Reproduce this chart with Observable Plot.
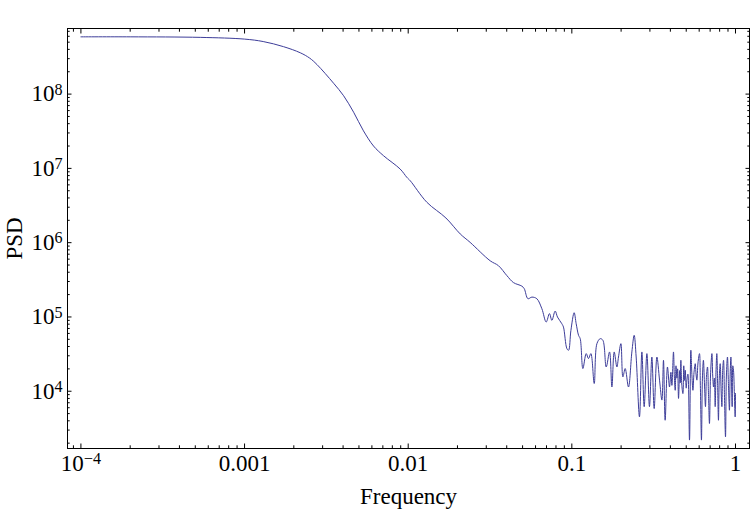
<!DOCTYPE html>
<html><head><meta charset="utf-8">
<script src="https://cdn.jsdelivr.net/npm/d3@7"></script>
<script src="https://cdn.jsdelivr.net/npm/@observablehq/plot@0.6"></script>
<style>
html,body{margin:0;padding:0;background:#fff;}
</style></head><body><div id="chart"></div>
<script>
// Frequency values
const freq = [
  1e-4, 2e-4, 5.4e-4, 1e-3, 1.3e-3, 1.73e-3, 2.19e-3, 2.5e-3, 2.77e-3, 3.5e-3, 4.03e-3, 4.64e-3, 5.33e-3,
  6.14e-3, 7.07e-3, 8.93e-3, 9.8e-3, 1.03e-2, 1.3e-2, 1.7e-2, 2.08e-2, 2.39e-2, 3.17e-2, 3.56e-2, 4.01e-2,
  4.40e-2, 4.95e-2, 5.12e-2, 5.39e-2, 5.70e-2, 6.11e-2, 6.56e-2,
  0.0697, 0.0730, 0.0755, 0.0791, 0.0817, 0.0869, 0.0889, 0.0933, 0.0955, 0.0987, 0.1033, 0.1063, 0.1099,
  0.1125, 0.1168, 0.1224, 0.1264, 0.1307, 0.1370, 0.1423, 0.1491, 0.1548, 0.1622, 0.1700, 0.1757, 0.1815,
  0.1885, 0.1928, 0.1994, 0.2051, 0.2118, 0.2219, 0.2327, 0.2404, 0.2472, 0.2590, 0.2679, 0.2767, 0.2875,
  0.2981, 0.3083, 0.3185, 0.3310, 0.3435, 0.3551, 0.3631, 0.3717, 0.3840, 0.3952,
  0.4030, 0.4087, 0.4179, 0.4230, 0.4283, 0.4330, 0.4385, 0.4430, 0.4487, 0.4560, 0.4600, 0.4637, 0.4700,
  0.4773, 0.4830, 0.4880, 0.4932, 0.5000, 0.5047, 0.5120, 0.5236,
  0.5336, 0.5420, 0.5495, 0.5580, 0.5675, 0.5740, 0.5808, 0.5900, 0.6026, 0.6100, 0.6195, 0.6280, 0.6368,
  0.6460, 0.6555, 0.6650, 0.6745, 0.6840, 0.6934, 0.7050, 0.7177, 0.7260, 0.7345, 0.7430, 0.7516, 0.7600,
  0.7691, 0.7780, 0.7870, 0.7960, 0.8065, 0.8160, 0.8260, 0.8350, 0.8453, 0.8560, 0.8690, 0.8800, 0.8933,
  0.9060, 0.9183, 0.9280, 0.9376, 0.9460, 0.9545, 0.9630, 0.9723, 0.9850, 0.9954, 1.0
];
// PSD values
const psd = [
  5.9e8, 5.9e8, 5.8e8, 5.5e8, 5.1e8, 4.35e8, 3.6e8, 3.05e8, 2.5e8, 1.4e8, 9.5e7, 5.7e7, 3.2e7,
  2.0e7, 1.48e7, 9.8e6, 7.6e6, 6.8e6, 3.5e6, 2.15e6, 1.31e6, 1.01e6, 5.7e5, 4.9e5, 3.6e5,
  2.9e5, 2.6e5, 2.4e5, 1.76e5, 1.85e5, 1.76e5, 1.29e5,
  8.55e4, 1.11e5, 9.0e4, 1.20e5, 9.98e4, 8.1e4, 7.3e4, 3.74e4, 3.56e4, 6.6e4, 1.14e5, 8.1e4, 5.66e4,
  5.1e4, 2.02e4, 3.21e4, 2.75e4, 3.21e4, 1.27e4, 4.37e4, 5.1e4, 4.85e4, 2.12e4, 3.38e4, 1.14e4, 3.38e4,
  2.12e4, 2.89e4, 4.37e4, 1.56e4, 2.02e4, 1.14e4, 3.38e4, 5.66e4, 2.89e4, 4.52e3, 3.38e4, 6.2e3, 3.21e4,
  6.2e3, 2.89e4, 5.85e3, 2.89e4, 1.41e4, 7.6e3, 2.61e4, 4.07e3, 2.12e4, 1.14e4,
  1.8e4, 1.2e4, 3.38e4, 1.6e4, 1.03e4, 2.2e4, 1.5e4, 2.0e4, 8.0e3, 1.9e4, 1.3e4, 2.61e4, 1.2e4,
  9.3e3, 2.2e4, 1.4e4, 1.92e4, 1.1e4, 1.41e4, 1.7e4, 2.2e3,
  3.56e4, 1.6e4, 1.03e4, 1.8e4, 2.35e4, 1.7e4, 1.41e4, 2.4e4, 3.21e4, 1.2e4, 2.2e3, 1.5e4, 2.61e4,
  1.3e4, 6.2e3, 1.6e4, 2.12e4, 9.0e3, 3.68e3, 1.8e4, 3.21e4, 1.6e4, 1.14e4, 1.5e4, 6.2e3, 1.8e4,
  3.21e4, 1.2e4, 4.07e3, 1.5e4, 2.35e4, 1.1e4, 6.2e3, 1.9e4, 2.61e4, 9.0e3, 2.43e3, 1.6e4, 2.89e4,
  1.2e4, 5.55e3, 1.7e4, 2.89e4, 1.3e4, 6.2e3, 2.2e4, 1.92e4, 9.0e3, 4.52e3, 9.3e3
];

const majorX = [1e-4, 1e-3, 1e-2, 1e-1, 1];
const labelsX = ["10⁻⁴", "0.001", "0.01", "0.1", "1"];
const majorY = [1e4, 1e5, 1e6, 1e7, 1e8];
const labelsY = ["10⁴", "10⁵", "10⁶", "10⁷", "10⁸"];
const mantissas = [2, 3, 4, 5, 6, 7, 8, 9];

const xDomain = [8.28e-5, 1.218];
const yDomain = [1695, 7.64e8];

const inDom = (dom) => (v) => v >= dom[0] && v <= dom[1];
const minorX = [1e-5, 1e-4, 1e-3, 1e-2, 1e-1, 1].flatMap(d => mantissas.map(m => m * d)).filter(inDom(xDomain));
const minorY = [1e3, 1e4, 1e5, 1e6, 1e7, 1e8].flatMap(d => mantissas.map(m => m * d)).filter(inDom(yDomain));

const data = freq.map((f, i) => ({f, p: psd[i]}));
const fmtX = (d) => labelsX[majorX.indexOf(d)];
const fmtY = (d) => labelsY[majorY.indexOf(d)];
const blank = () => "";

const font = "Liberation Serif, Times New Roman, serif";
const FS = 23;
const common = {label: null, fontSize: FS};

const chart = Plot.plot({
  width: 753,
  height: 511,
  marginLeft: 67,
  marginRight: 4,
  marginTop: 28,
  marginBottom: 63,
  style: {fontFamily: font, fontSize: FS + "px", background: "#fff", color: "#000"},
  x: {type: "log", domain: xDomain, label: null},
  y: {type: "log", domain: yDomain, label: null},
  marks: [
    Plot.line(data, {x: "f", y: "p", stroke: "#3d3d99", strokeWidth: 1, curve: "catmull-rom"}),
    Plot.frame({stroke: "#000", strokeWidth: 1}),
    // inward ticks on all four sides
    Plot.axisX(majorX, {...common, anchor: "bottom", tickSize: -4.5, tickFormat: blank}),
    Plot.axisX(minorX, {...common, anchor: "bottom", tickSize: -2.7, tickFormat: blank}),
    Plot.axisX(majorX, {...common, anchor: "top", tickSize: -4.5, tickFormat: blank}),
    Plot.axisX(minorX, {...common, anchor: "top", tickSize: -2.7, tickFormat: blank}),
    Plot.axisY(majorY, {...common, anchor: "left", tickSize: -4.5, tickFormat: blank}),
    Plot.axisY(minorY, {...common, anchor: "left", tickSize: -2.7, tickFormat: blank}),
    Plot.axisY(majorY, {...common, anchor: "right", tickSize: -4.5, tickFormat: blank}),
    Plot.axisY(minorY, {...common, anchor: "right", tickSize: -2.7, tickFormat: blank}),
    // labels
    Plot.axisX(majorX, {anchor: "bottom", tickSize: 0, tickPadding: 6, tickFormat: fmtX, fontSize: FS,
      label: "Frequency", labelAnchor: "center", labelOffset: 55, labelArrow: "none"}),
    Plot.axisY(majorY, {anchor: "left", tickSize: 0, tickPadding: 5, tickFormat: fmtY, fontSize: FS,
      label: "PSD", labelAnchor: "center", labelOffset: 62, labelArrow: "none"})
  ]
});

// render superscript exponents like Mathematica (smaller, raised digits)
const supMap = {"⁰":"0","¹":"1","²":"2","³":"3","⁴":"4","⁵":"5","⁶":"6","⁷":"7","⁸":"8","⁹":"9","⁻":"−"};
chart.querySelectorAll("text").forEach((t) => {
  const s = t.textContent;
  const m = s.match(/^(10)([⁻⁰¹²³⁴⁵⁶⁷⁸⁹]+)$/);
  if (!m) return;
  while (t.firstChild) t.removeChild(t.firstChild);
  const ns = "http://www.w3.org/2000/svg";
  const base = document.createElementNS(ns, "tspan");
  base.textContent = m[1];
  const sup = document.createElementNS(ns, "tspan");
  sup.textContent = [...m[2]].map(c => supMap[c]).join("");
  sup.setAttribute("font-size", "0.7em");
  sup.setAttribute("dy", "-0.42em");
  t.appendChild(base);
  t.appendChild(sup);
});
document.getElementById("chart").appendChild(chart);
</script>
</body></html>
